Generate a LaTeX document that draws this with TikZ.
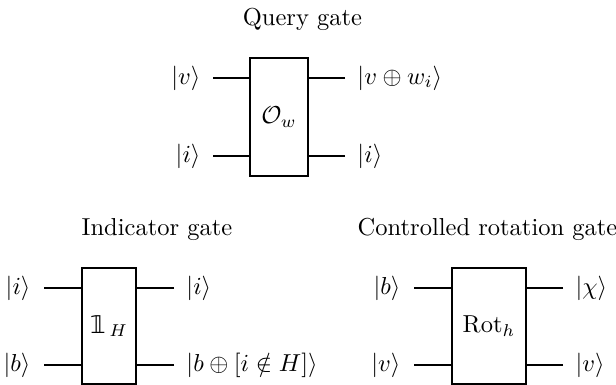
\documentclass[tikz,border=0pt]{standalone}
\usepackage{amsmath,amssymb}
\usepackage{fontspec}
\newfontfamily\dsfam{DejaVu Sans}
\tikzset{
  gatebox/.style={draw,line width=0.8pt,inner sep=0pt},
  wireline/.style={line width=0.8pt},
}
\newcommand{\ket}[1]{$|#1\rangle$}
\begin{document}
\begin{tikzpicture}[x=0.408pt,y=-0.408pt]
    \useasboundingbox (0,0) rectangle (616,385);
    % query gate
    \node[anchor=base] (qtitle) at (302.5,26) {Query gate};
    \node[gatebox,minimum width=23.3pt,minimum height=48pt] (qgate) at (279,117) {$\mathcal{O}_w$};
    \coordinate (qa) at (213,78);
    \coordinate (qb) at (213,156);
    \coordinate (qc) at (345,78);
    \coordinate (qd) at (345,156);
    \draw[wireline] (qa) -- (qa -| qgate.west);
    \draw[wireline] (qb) -- (qb -| qgate.west);
    \draw[wireline] (qc) -- (qc -| qgate.east);
    \draw[wireline] (qd) -- (qd -| qgate.east);
    \node[anchor=east,inner sep=0pt] (qla) at (201,78) {\ket{v}};
    \node[anchor=east,inner sep=0pt] (qlb) at (201,156) {\ket{i}};
    \node[anchor=west,inner sep=0pt] (qlc) at (357,78) {\ket{v\oplus w_i}};
    \node[anchor=west,inner sep=0pt] (qld) at (357,156) {\ket{i}};
    % indicator gate
    \node[anchor=base] (ititle) at (157,236) {Indicator gate};
    \node[gatebox,minimum width=22.3pt,minimum height=47.5pt] (igate) at (109,326) {{\dsfam 𝟙}\kern1.5pt$_H$};
    \coordinate (ia) at (44,288);
    \coordinate (ib) at (44,365);
    \coordinate (ic) at (174,288);
    \coordinate (id) at (174,365);
    \draw[wireline] (ia) -- (ia -| igate.west);
    \draw[wireline] (ib) -- (ib -| igate.west);
    \draw[wireline] (ic) -- (ic -| igate.east);
    \draw[wireline] (id) -- (id -| igate.east);
    \node[anchor=east,inner sep=0pt] (ila) at (31,288) {\ket{i}};
    \node[anchor=east,inner sep=0pt] (ilb) at (31,365) {\ket{b}};
    \node[anchor=west,inner sep=0pt] (ilc) at (186,288) {\ket{i}};
    \node[anchor=west,inner sep=0pt] (ild) at (186,365) {\ket{b\oplus[i\notin H]}};
    % rotation gate
    \node[anchor=base] (rtitle) at (487.5,236) {Controlled rotation gate};
    \node[gatebox,minimum width=30.3pt,minimum height=47.5pt] (rgate) at (489,326) {$\mathrm{Rot}_h$};
    \coordinate (ra) at (414,288);
    \coordinate (rb) at (414,365);
    \coordinate (rc) at (563,288);
    \coordinate (rd) at (563,365);
    \draw[wireline] (ra) -- (ra -| rgate.west);
    \draw[wireline] (rb) -- (rb -| rgate.west);
    \draw[wireline] (rc) -- (rc -| rgate.east);
    \draw[wireline] (rd) -- (rd -| rgate.east);
    \node[anchor=east,inner sep=0pt] (rla) at (401,288) {\ket{b}};
    \node[anchor=east,inner sep=0pt] (rlb) at (401,365) {\ket{v}};
    \node[anchor=west,inner sep=0pt] (rlc) at (575,288) {\ket{\chi}};
    \node[anchor=west,inner sep=0pt] (rld) at (575,365) {\ket{v}};
\end{tikzpicture}
\end{document}
